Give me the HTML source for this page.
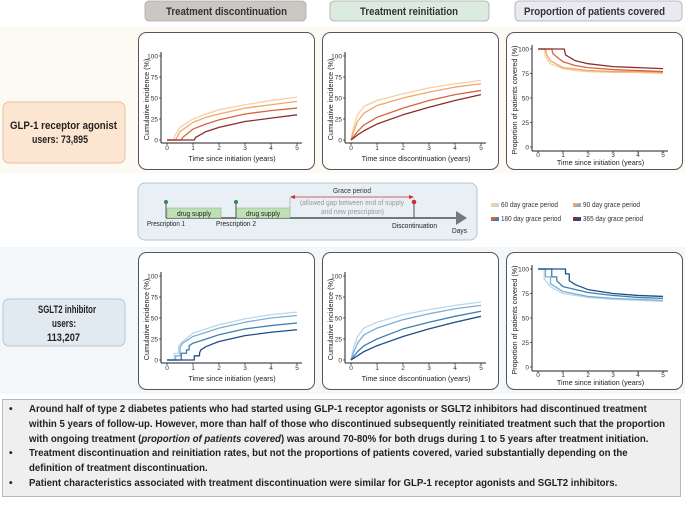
<!DOCTYPE html>
<html><head><meta charset="utf-8">
<style>
html,body{margin:0;padding:0;background:#fff;}
body{width:685px;height:501px;overflow:hidden;position:relative;font-family:"Liberation Sans",Arial,sans-serif;}
svg text{font-family:"Liberation Sans",Arial,sans-serif;}
.notes{position:absolute;left:2px;top:399px;width:679px;height:98px;background:#efefef;border:1px solid #b8b8b8;box-sizing:border-box;font-weight:bold;font-size:10.3px;color:#222;line-height:14.8px;padding-top:3px;overflow:hidden;}
.notes .li{position:relative;padding-left:26px;white-space:nowrap;}
.notes .li:before{content:"•";position:absolute;left:6px;top:0;}
.notes .ln{display:block;transform:scaleX(0.935);transform-origin:0 0;}
</style></head><body>
<svg id="fig" width="685" height="501" viewBox="0 0 685 501" xmlns="http://www.w3.org/2000/svg">
  <rect x="0" y="27" width="685" height="146" fill="#fdf9f3"/>
  <rect x="0" y="247" width="685" height="147" fill="#f4f7fa"/>
  <g>
    <rect x="145" y="1" width="161" height="20" rx="4" fill="#cbc7c2" stroke="#aaa" stroke-width="0.8"/>
    <text x="166" y="15" font-size="11" font-weight="bold" fill="#333" textLength="121" lengthAdjust="spacingAndGlyphs">Treatment discontinuation</text>
  </g>
  <g>
    <rect x="330" y="1" width="159" height="20" rx="4" fill="#dcebdf" stroke="#aaa" stroke-width="0.8"/>
    <text x="360" y="15" font-size="11" font-weight="bold" fill="#333" textLength="98" lengthAdjust="spacingAndGlyphs">Treatment reinitiation</text>
  </g>
  <g>
    <rect x="515" y="1" width="167" height="20" rx="4" fill="#e9e9f1" stroke="#aaa" stroke-width="0.8"/>
    <text x="524" y="15" font-size="11" font-weight="bold" fill="#333" textLength="141" lengthAdjust="spacingAndGlyphs">Proportion of patients covered</text>
  </g>
  <g>
    <rect x="3" y="102" width="122" height="61" rx="6" fill="#fde6d1" stroke="#e3c3a5" stroke-width="1"/>
    <text x="10" y="129" font-size="11" font-weight="bold" fill="#222" textLength="107" lengthAdjust="spacingAndGlyphs">GLP-1 receptor agonist</text>
    <text x="32" y="143" font-size="11" font-weight="bold" fill="#222" textLength="56" lengthAdjust="spacingAndGlyphs">users: 73,895</text>
  </g>
  <g>
    <rect x="3" y="299" width="122" height="47" rx="6" fill="#e2eaf1" stroke="#b9c7d3" stroke-width="1"/>
    <text x="38" y="313" font-size="11" font-weight="bold" fill="#222" textLength="58" lengthAdjust="spacingAndGlyphs">SGLT2 inhibitor</text>
    <text x="52" y="327" font-size="11" font-weight="bold" fill="#222" textLength="24" lengthAdjust="spacingAndGlyphs">users:</text>
    <text x="47" y="341" font-size="11" font-weight="bold" fill="#222" textLength="33" lengthAdjust="spacingAndGlyphs">113,207</text>
  </g>
  <g>
    <rect x="138" y="183" width="339" height="57" rx="7" fill="#e8f0f5" stroke="#b5c4cf" stroke-width="1"/>
    <line x1="166" y1="218" x2="458" y2="218" stroke="#777" stroke-width="2"/>
    <polygon points="456,211 467,218 456,225" fill="#777"/>
    <rect x="167" y="208" width="54" height="10" fill="#bfe0b5" stroke="#8fb487" stroke-width="0.6"/>
    <text x="177" y="216" font-size="7.5" fill="#222" textLength="34" lengthAdjust="spacingAndGlyphs">drug supply</text>
    <rect x="236" y="208" width="54" height="10" fill="#bfe0b5" stroke="#8fb487" stroke-width="0.6"/>
    <text x="246" y="216" font-size="7.5" fill="#222" textLength="34" lengthAdjust="spacingAndGlyphs">drug supply</text>
    <line x1="166" y1="202" x2="166" y2="218" stroke="#555" stroke-width="1"/>
    <circle cx="166" cy="202" r="2" fill="#2f8a4a"/>
    <line x1="236" y1="202" x2="236" y2="218" stroke="#555" stroke-width="1"/>
    <circle cx="236" cy="202" r="2" fill="#2f8a4a"/>
    <line x1="414" y1="202" x2="414" y2="218" stroke="#555" stroke-width="1"/>
    <circle cx="414" cy="202" r="2.3" fill="#c9303a"/>
    <line x1="290" y1="197" x2="290" y2="208" stroke="#999" stroke-width="0.6"/>
    <line x1="293" y1="197" x2="411" y2="197" stroke="#c9303a" stroke-width="0.8"/>
    <polygon points="290,197 295,195 295,199" fill="#c9303a"/>
    <polygon points="414,197 409,195 409,199" fill="#c9303a"/>
    <text x="333" y="193" font-size="7.5" fill="#333" textLength="38" lengthAdjust="spacingAndGlyphs">Grace period</text>
    <text x="300" y="205" font-size="7" fill="#999" textLength="104" lengthAdjust="spacingAndGlyphs">(allowed gap between end of supply</text>
    <text x="321" y="214" font-size="7" fill="#999" textLength="63" lengthAdjust="spacingAndGlyphs">and new prescription)</text>
    <text x="147" y="226" font-size="7.5" fill="#222" textLength="38" lengthAdjust="spacingAndGlyphs">Prescription 1</text>
    <text x="216" y="226" font-size="7.5" fill="#222" textLength="40" lengthAdjust="spacingAndGlyphs">Prescription 2</text>
    <text x="392" y="228" font-size="7.5" fill="#222" textLength="45" lengthAdjust="spacingAndGlyphs">Discontinuation</text>
    <text x="452" y="233" font-size="7.5" fill="#222" textLength="15" lengthAdjust="spacingAndGlyphs">Days</text>
  </g>
  <defs>
    <linearGradient id="g60" x1="0" y1="0" x2="1" y2="1"><stop offset="0.5" stop-color="#f6cfa3"/><stop offset="0.5" stop-color="#bcd7e8"/></linearGradient>
    <linearGradient id="g90" x1="0" y1="0" x2="1" y2="1"><stop offset="0.5" stop-color="#f0a868"/><stop offset="0.5" stop-color="#7fb0d2"/></linearGradient>
    <linearGradient id="g180" x1="0" y1="0" x2="1" y2="1"><stop offset="0.5" stop-color="#d7643e"/><stop offset="0.5" stop-color="#3f7fb0"/></linearGradient>
    <linearGradient id="g365" x1="0" y1="0" x2="1" y2="1"><stop offset="0.5" stop-color="#8c2d2d"/><stop offset="0.5" stop-color="#1d4f86"/></linearGradient>
  </defs>
  <g font-size="7" fill="#333">
    <g><rect x="491" y="203" width="8" height="4" fill="url(#g60)"/><text x="501" y="207" textLength="57" lengthAdjust="spacingAndGlyphs">60 day grace period</text></g>
    <g><rect x="573" y="203" width="8" height="4" fill="url(#g90)"/><text x="583" y="207" textLength="57" lengthAdjust="spacingAndGlyphs">90 day grace period</text></g>
    <g><rect x="491" y="217" width="8" height="4" fill="url(#g180)"/><text x="501" y="221" textLength="60" lengthAdjust="spacingAndGlyphs">180 day grace period</text></g>
    <g><rect x="573" y="217" width="8" height="4" fill="url(#g365)"/><text x="583" y="221" textLength="60" lengthAdjust="spacingAndGlyphs">365 day grace period</text></g>
  </g>
  <g id="panels"></g>
</svg>
<div class="notes">
  <div class="li"><span class="ln">Around half of type 2 diabetes patients who had started using GLP-1 receptor agonists or SGLT2 inhibitors had discontinued treatment</span><span class="ln">within 5 years of follow-up. However, more than half of those who discontinued subsequently reinitiated treatment such that the proportion</span><span class="ln">with ongoing treatment (<i>proportion of patients covered</i>) was around 70-80% for both drugs during 1 to 5 years after treatment initiation.</span></div>
  <div class="li"><span class="ln">Treatment discontinuation and reinitiation rates, but not the proportions of patients covered, varied substantially depending on the</span><span class="ln">definition of treatment discontinuation.</span></div>
  <div class="li"><span class="ln">Patient characteristics associated with treatment discontinuation were similar for GLP-1 receptor agonists and SGLT2 inhibitors.</span></div>
</div>
<script>
// ---- data: [years, percent] points per grace period ----
const xTicks = [0,1,2,3,4,5];
const yTicks = [0,25,50,75,100];
const graceLabels = ["60","90","180","365"];
const orangeColors = ["#f6cfa3","#f0a868","#d7643e","#8c2d2d"];
const blueColors = ["#bcd7e8","#7fb0d2","#3f7fb0","#1d4f86"];

const glpDisc60 = [[0,0],[0.28,0],[0.3,5],[0.5,15],[1,25],[1.5,31],[2,36],[3,42],[4,47],[5,51]];
const glpDisc90 = [[0,0],[0.33,0],[0.5,10],[1,21],[1.5,27],[2,31],[3,38],[4,42],[5,46]];
const glpDisc180 = [[0,0],[0.55,0],[0.6,3],[1,13],[1.5,19],[2,24],[3,31],[4,35],[5,38]];
const glpDisc365 = [[0,0],[1.05,0],[1.1,3],[1.5,10],[2,15],[3,22],[4,26],[5,30]];

const glpReinit60 = [[0,0],[0.05,8],[0.1,15],[0.25,30],[0.5,40],[1,47],[2,55],[3,62],[4,67],[5,71]];
const glpReinit90 = [[0,0],[0.1,10],[0.25,22],[0.5,32],[1,41],[2,50],[3,57],[4,63],[5,67]];
const glpReinit180 = [[0,0],[0.25,10],[0.5,18],[1,27],[2,38],[3,47],[4,54],[5,59]];
const glpReinit365 = [[0,0],[0.25,6],[0.5,11],[1,19],[2,30],[3,39],[4,47],[5,54]];

const glpCov60 = [[0,100],[0.25,100],[0.3,92],[0.5,85],[1,80],[1.5,78],[2,77],[3,76],[4,76],[5,75]];
const glpCov90 = [[0,100],[0.3,100],[0.35,94],[0.5,88],[1,81],[2,78],[3,77],[4,77],[5,76]];
const glpCov180 = [[0,100],[0.55,100],[0.6,95],[1,87],[1.5,83],[2,81],[3,79],[4,78],[5,77]];
const glpCov365 = [[0,100],[1.05,100],[1.1,94],[1.5,88],[2,85],[3,82],[4,81],[5,80]];

const sgDisc60 = [[0,0],[0.28,0],[0.28,8],[0.45,8],[0.45,17],[0.6,22],[1,32],[2,42],[3,49],[4,54],[5,57]];
const sgDisc90 = [[0,0],[0.33,0],[0.33,5],[0.5,5],[0.5,15],[0.6,20],[1,28],[2,38],[3,45],[4,50],[5,53]];
const sgDisc180 = [[0,0],[0.55,0],[0.55,8],[0.75,8],[0.75,12],[0.85,12],[0.85,17],[1,20],[2,30],[3,37],[4,41],[5,44]];
const sgDisc365 = [[0,0],[1.05,0],[1.05,5],[1.25,5],[1.25,8],[1.3,12],[1.5,16],[2,22],[3,29],[4,33],[5,36]];

const sgReinit60 = [[0,0],[0.05,8],[0.1,15],[0.25,28],[0.5,38],[1,45],[2,54],[3,60],[4,65],[5,69]];
const sgReinit90 = [[0,0],[0.1,9],[0.25,20],[0.5,30],[1,38],[2,48],[3,55],[4,61],[5,65]];
const sgReinit180 = [[0,0],[0.25,10],[0.5,17],[1,25],[2,37],[3,45],[4,52],[5,58]];
const sgReinit365 = [[0,0],[0.25,5],[0.5,10],[1,17],[2,28],[3,37],[4,45],[5,52]];

const sgCov60 = [[0,100],[0.25,100],[0.25,90],[0.4,85],[0.5,82],[1,75],[2,71],[3,69],[4,68],[5,67]];
const sgCov90 = [[0,100],[0.3,100],[0.3,92],[0.5,92],[0.5,85],[1,77],[2,72],[3,70],[4,69],[5,68]];
const sgCov180 = [[0,100],[0.55,100],[0.55,92],[0.75,92],[0.75,88],[1,82],[2,76],[3,73],[4,71],[5,70]];
const sgCov365 = [[0,100],[1.1,100],[1.1,95],[1.25,95],[1.25,88],[1.5,84],[2,79],[3,75],[4,73],[5,72]];

const NS = "http://www.w3.org/2000/svg";
const root = document.getElementById("panels");
function mk(tag, attrs, parent){
  const e = document.createElementNS(NS, tag);
  for (const k in attrs) e.setAttribute(k, attrs[k]);
  parent.appendChild(e);
  return e;
}
function panel(name, px, py, kind, yTitle, xTitle, series, colors){
  const g = mk("g", {}, root);
  
  
  mk("rect", {x:px+0.5, y:py+0.5, width:176, height:137, rx:8, fill:"#fff", stroke:"#555", "stroke-width":1}, g);
  let L;
  if (kind === "A") L = {ax:px+23, y100:py+24, y0:py+108, xa:py+111, x0:px+29, x5:px+159, tl:py+119, tt:py+129, yt:px+11};
  else L = {ax:px+26, y100:py+17, y0:py+115, xa:py+119, x0:px+32, x5:px+157, tl:py+126, tt:py+133, yt:px+11};
  const sx = v => L.x0 + (L.x5 - L.x0) * v / 5;
  const sy = v => L.y0 - (L.y0 - L.y100) * v / 100;
  const axes = mk("g", {}, g);
  
  
  mk("line", {x1:L.ax, y1:L.y100-4, x2:L.ax, y2:L.xa, stroke:"#222", "stroke-width":1}, axes);
  mk("line", {x1:L.ax, y1:L.xa, x2:sx(5)+5, y2:L.xa, stroke:"#222", "stroke-width":1}, axes);
  yTicks.forEach(t => {
    mk("line", {x1:L.ax-2, y1:sy(t), x2:L.ax, y2:sy(t), stroke:"#222", "stroke-width":0.7}, axes);
    const tx = mk("text", {x:L.ax-3, y:sy(t)+2.3, "text-anchor":"end", "font-size":6.5, fill:"#333"}, axes);
    tx.textContent = t;
  });
  xTicks.forEach(t => {
    mk("line", {x1:sx(t), y1:L.xa, x2:sx(t), y2:L.xa+2, stroke:"#222", "stroke-width":0.7}, axes);
    const tx = mk("text", {x:sx(t), y:L.tl-1, "text-anchor":"middle", "font-size":6.5, fill:"#333"}, axes);
    tx.textContent = t;
  });
  const xt = mk("text", {x:(sx(0)+sx(5))/2, y:L.tt, "text-anchor":"middle", "font-size":7.2, fill:"#222"}, g);
  
  
  xt.textContent = xTitle;
  const cy = (L.y100 + L.xa) / 2;
  const yt = mk("text", {x:L.yt, y:cy, "text-anchor":"middle", "font-size":7.2, fill:"#222", transform:"rotate(-90 "+L.yt+" "+cy+")"}, g);
  
  
  yt.textContent = yTitle;
  series.forEach((s, i) => {
    const p = mk("polyline", {points: s.map(d => sx(d[0]).toFixed(2)+","+sy(d[1]).toFixed(2)).join(" "), fill:"none", stroke:colors[i], "stroke-width":1.3, "stroke-linejoin":"round"}, g);
    
    
  });
}
const ttlCI = "Cumulative incidence (%)";
const ttlPC = "Proportion of patients covered (%)";
panel("glp1-discontinuation-chart", 138, 32, "A", ttlCI, "Time since initiation (years)", [glpDisc60,glpDisc90,glpDisc180,glpDisc365], orangeColors);
panel("glp1-reinitiation-chart", 322, 32, "A", ttlCI, "Time since discontinuation (years)", [glpReinit60,glpReinit90,glpReinit180,glpReinit365], orangeColors);
panel("glp1-coverage-chart", 506, 32, "C", ttlPC, "Time since initiation (years)", [glpCov60,glpCov90,glpCov180,glpCov365], orangeColors);
panel("sglt2-discontinuation-chart", 138, 252, "A", ttlCI, "Time since initiation (years)", [sgDisc60,sgDisc90,sgDisc180,sgDisc365], blueColors);
panel("sglt2-reinitiation-chart", 322, 252, "A", ttlCI, "Time since discontinuation (years)", [sgReinit60,sgReinit90,sgReinit180,sgReinit365], blueColors);
panel("sglt2-coverage-chart", 506, 252, "C", ttlPC, "Time since initiation (years)", [sgCov60,sgCov90,sgCov180,sgCov365], blueColors);
</script>
</body></html>
